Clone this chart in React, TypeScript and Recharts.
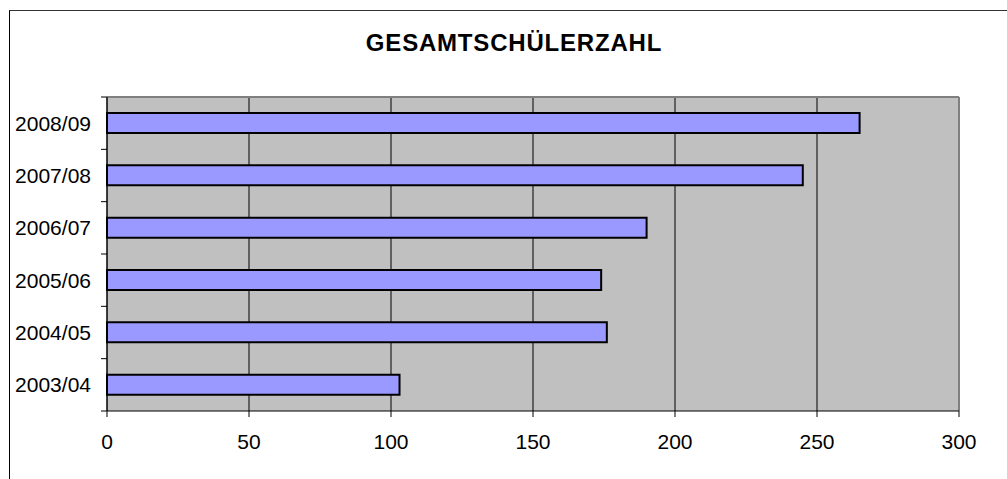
import React from "react";
import {
  BarChart,
  Bar,
  XAxis,
  YAxis,
  CartesianGrid,
  ReferenceLine,
} from "recharts";

const years = ["2008/09", "2007/08", "2006/07", "2005/06", "2004/05", "2003/04"];
const pupils = [265, 245, 190, 174, 176, 103];
const xTicks = [0, 50, 100, 150, 200, 250, 300];
const title = "GESAMTSCHÜLERZAHL";

const data = years.map((y, i) => ({ year: y, value: pupils[i] }));

const FONT = "'Liberation Sans', Arial, sans-serif";
const TICK_SIZE = 6;
const TICK_MARGIN = 10;

const CategoryTick = (props: any) => {
  const { x, y, payload, height, visibleTicksCount, index } = props;
  const count = visibleTicksCount || years.length;
  const band = typeof height === "number" && height > 0 ? height / count : 0;
  const x1 = x + TICK_MARGIN;
  const x2 = x + TICK_MARGIN + TICK_SIZE;
  return (
    <g>
      <text
        x={x}
        y={y}
        dy="0.355em"
        textAnchor="end"
        fill="#000"
        fontSize={21}
        fontFamily={FONT}
      >
        {payload.value}
      </text>
      {band > 0 && (
        <line x1={x1} x2={x2} y1={y - band / 2} y2={y - band / 2} stroke="#000" />
      )}
      {band > 0 && index === count - 1 && (
        <line x1={x1} x2={x2} y1={y + band / 2} y2={y + band / 2} stroke="#000" />
      )}
    </g>
  );
};

const topEdge = (p: any) => [p?.offset?.top ?? 0];

export default function App() {
  return (
    <div
      style={{
        position: "absolute",
        left: 0,
        top: 0,
        width: 1007,
        height: 479,
        overflow: "hidden",
        background: "#fff",
        fontFamily: FONT,
      }}
    >
      <div
        style={{
          position: "absolute",
          left: 9,
          top: 10,
          width: 1100,
          height: 600,
          borderLeft: "1px solid #000",
          borderTop: "1px solid #333",
        }}
      />
      <svg
        width={1007}
        height={479}
        style={{ position: "absolute", left: 0, top: 0 }}
      >
        <text
          x={514}
          y={50.5}
          textAnchor="middle"
          fontFamily={FONT}
          fontWeight="bold"
          fontSize={24}
          letterSpacing={0.8}
          fill="#000"
        >
          {title}
        </text>
      </svg>
      <div style={{ position: "absolute", left: 0, top: 0 }}>
        <BarChart
          width={1007}
          height={479}
          data={data}
          layout="vertical"
          margin={{ top: 97, right: 48, bottom: 23, left: 0 }}
          barCategoryGap={0}
        >
          <CartesianGrid
            horizontal={false}
            vertical={true}
            stroke="#000"
            fill="#C0C0C0"
            fillOpacity={1}
          />
          <CartesianGrid
            horizontal={true}
            vertical={false}
            horizontalCoordinatesGenerator={topEdge}
            stroke="#808080"
            strokeWidth={2}
            fill="none"
          />
          <YAxis
            type="category"
            dataKey="year"
            width={107}
            tickLine={false}
            tickSize={TICK_SIZE}
            tickMargin={TICK_MARGIN}
            axisLine={{ stroke: "#000" }}
            tick={CategoryTick}
            interval={0}
          />
          <XAxis
            type="number"
            domain={[0, 300]}
            ticks={xTicks}
            interval={0}
            height={45}
            tickSize={6}
            tickMargin={17}
            axisLine={{ stroke: "#000" }}
            tickLine={{ stroke: "#000" }}
            tick={{ fill: "#000", fontSize: 21, fontFamily: FONT }}
          />
          <ReferenceLine x={300} stroke="#808080" strokeWidth={2} />
          <Bar
            dataKey="value"
            fill="#9999FF"
            stroke="#000"
            strokeWidth={2}
            barSize={20}
            isAnimationActive={false}
          />
        </BarChart>
      </div>
    </div>
  );
}
